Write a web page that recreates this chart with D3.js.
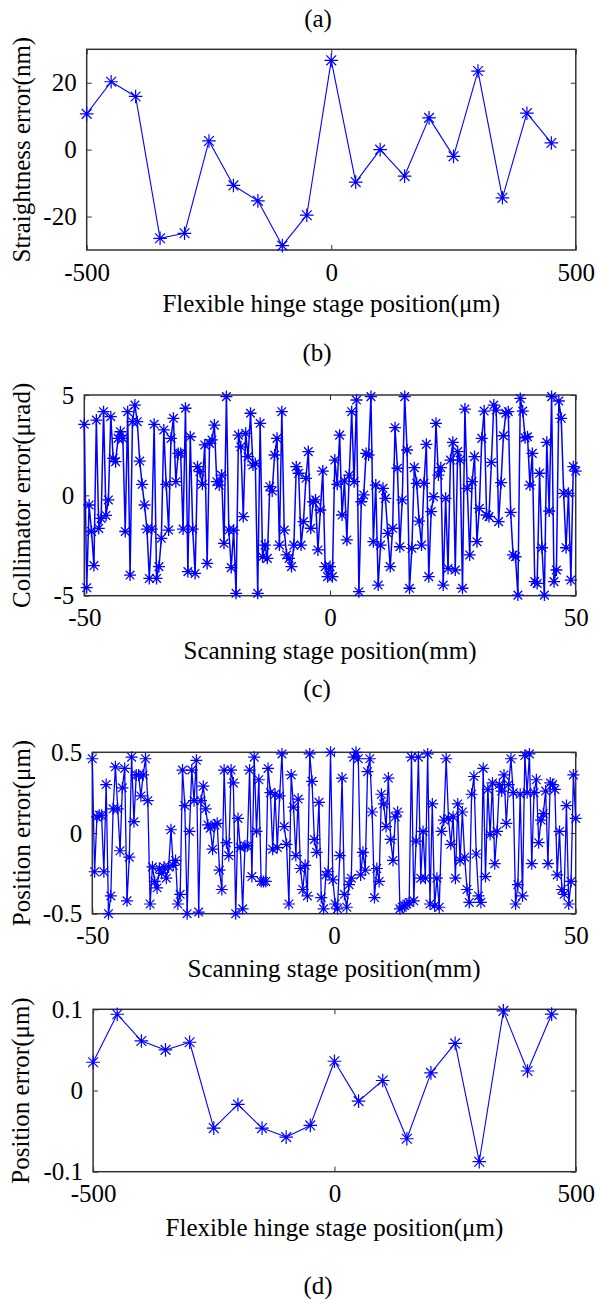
<!DOCTYPE html>
<html>
<head>
<meta charset="utf-8">
<script src="https://cdn.jsdelivr.net/npm/d3@7/dist/d3.min.js"></script>
<style>
  html, body { margin: 0; padding: 0; background: #fff; }
  svg { display: block; }
  text { font-family: "Liberation Serif", "Times New Roman", serif; fill: #000; }
</style>
</head>
<body>
<svg id="fig" width="596" height="1299"></svg>
<script>
// (a) straightness error vs flexible hinge stage position
const hingePos = [-500, -450, -400, -350, -300, -250, -200, -150, -100, -50,
                  0, 50, 100, 150, 200, 250, 300, 350, 400, 450];
const straightnessErr = [10.7, 20.3, 15.9, -26.5, -25, 2.6, -10.7, -15.3, -28.7, -19.6,
                         26.7, -9.7, 0, -7.9, 9.5, -2, 23.5, -14.4, 10.9, 2];

// (b) collimator error along the scanning stage (µrad)
const collimatorErr = [
  3.54,-4.6,-0.48,-1.8,-3.5,3.75,-1.65,-1.15,4.17,-1.0,
  -0.23,3.92,1.84,1.68,2.84,3.17,2.84,-1.8,4.17,-3.97,
  3.67,4.5,3.67,1.71,0.55,-0.48,-1.68,-4.14,-1.68,3.54,
  -4.14,-3.55,-2.14,3.26,0.55,-1.73,2.84,3.84,0.68,2.09,
  2.09,-1.68,4.34,-3.8,2.92,-1.68,-3.89,1.43,1.18,0.55,
  2.51,-3.39,2.59,2.76,3.5,0.68,0.51,1.01,-2.39,4.92,
  -1.73,-3.6,-1.73,-4.88,3.0,2.42,-1.06,
  3.09,1.93,4.09,1.51,1.59,-4.88,3.59,-3.06,-2.48,-3.14,
  0.43,0.22,2.01,2.84,-2.48,4.17,-1.73,-2.97,-3.14,-3.55,
  -2.48,1.43,1.1,-2.48,-1.31,0.85,2.18,-1.64,-0.32,-0.23,
  -2.72,-0.73,1.21,-3.55,-4.05,-3.55,-4.05,1.76,0.55,3.0,
  -0.98,0.71,-2.22,1.01,4.17,0.68,4.75,-4.8,-0.32,0.02,
  2.09,2.01,4.92,-2.31,0.51,-4.47,-2.48,0.35,-0.15,-1.89,
  -3.55,-1.64,3.37,1.35,-2.56,-0.23,4.92,2.26,-4.63,
  -2.64,1.38,0.6,-1.28,-2.48,0.6,2.54,-4.05,-0.81,-0.07,
  3.59,1.01,1.38,-4.47,-0.15,-3.64,1.76,2.64,-3.72,2.18,
  1.76,-4.63,4.3,0.35,-2.97,0.68,1.93,-2.31,-0.65,2.84,
  4.2,-0.98,-1.06,1.64,4.5,4.25,-1.31,0.63,2.97,4.09,
  4.17,-0.85,-2.97,-3.06,-4.97,4.83,4.2,2.87,2.92,0.51,
  2.09,-4.3,-4.39,1.1,-2.61,-4.97,2.64,-0.78,4.92,-4.3,
  -3.72,4.7,3.84,0.1,-2.61,0.1,-4.22,1.43,1.21
];

// (c) position error along the scanning stage (µm)
const scanPosErr = [
  0.46,-0.24,0.1,0.11,0.11,-0.24,0.3,-0.5,-0.39,0.15,
  0.41,0.15,-0.11,0.28,0.4,-0.42,-0.15,0.47,0.07,0.36,
  0.36,0.23,0.36,0.46,0.2,-0.44,-0.21,-0.3,-0.34,-0.22,
  -0.25,-0.21,-0.28,-0.21,0.02,-0.2,-0.17,-0.44,-0.38,0.39,
  0.17,-0.5,0.01,0.39,0.2,0.45,-0.49,0.2,0.29,0.15,
  0.05,0.03,-0.1,0.05,0.06,-0.23,-0.35,0.39,-0.06,-0.14,
  0.39,0.31,-0.5,0.09,-0.09,-0.47,-0.08,-0.08,0.39,-0.27,
  0.47,0.01,0.33,-0.3,
  -0.3,-0.3,0.4,0.25,-0.1,0.24,-0.09,0.23,0.49,0.04,
  -0.07,-0.44,0.36,0.16,-0.14,0.21,-0.22,-0.35,-0.2,-0.39,
  0.49,0.32,-0.04,-0.12,0.19,-0.4,-0.47,-0.26,-0.24,0.5,
  -0.29,-0.44,-0.47,-0.14,0.34,-0.38,-0.46,-0.32,-0.28,0.47,
  0.5,0.46,-0.26,-0.12,-0.23,0.38,0.46,0.13,-0.4,-0.22,
  -0.3,0.24,0.18,0.04,0.34,-0.04,-0.17,0.1,0.13,-0.47,
  -0.46,-0.45,-0.44,-0.43,0.47,-0.42,-0.05,0.47,-0.28,
  0.01,-0.28,0.49,-0.44,0.18,-0.45,-0.28,-0.46,0.01,0.08,
  0.46,0.09,-0.07,0.1,-0.28,0.18,-0.17,0.13,-0.15,-0.35,
  -0.43,0.24,0.35,-0.13,-0.39,-0.43,0.4,-0.27,0.27,-0.01,
  0.31,-0.19,0.01,0.3,0.26,0.36,0.06,0.3,0.46,0.25,
  -0.44,-0.32,0.24,-0.39,0.48,0.25,0.49,-0.19,0.25,0.33,
  -0.06,0.08,0.12,0.26,-0.19,0.31,0.3,0.27,-0.26,0.01,
  -0.35,-0.38,0.17,-0.44,-0.3,0.36,0.09
];

// (d) position error vs flexible hinge stage position (µm)
const hingePosErr = [0.0348, 0.0939, 0.061, 0.05, 0.0594, -0.0463, -0.0172, -0.0463, -0.0574, -0.043,
                     0.036, -0.0131, 0.0123, -0.0594, 0.0217, 0.058, -0.0877, 0.098, 0.024, 0.094];

// tick labels
const hingeTicks = [-500, 0, 500];
const scanTicks = [-50, 0, 50];
const ticksA = [-20, 0, 20];
const ticksB = [-5, 0, 5];
const ticksC = [-0.5, 0, 0.5];
const ticksD = [-0.1, 0, 0.1];

// scanning stage samples span the full -50..50 mm travel
const scanRange = [-50, 50];
const scanSamples = n => d3.range(n).map(i => scanRange[0] + (scanRange[1] - scanRange[0]) * i / (n - 1));

const panels = [
  { title: "(a)", titleXY: [318, 18],
    box: [86.7, 575.8, 49.3, 250], xDom: [-500, 500], yDom: [-30, 30],
    xTicks: hingeTicks, yTicks: ticksA,
    xs: hingePos, ys: straightnessErr,
    xLabel: "Flexible hinge stage position(\u03bcm)", xLabelY: 303,
    yLabel: "Straightness error(nm)", yLabelX: 21, r: 6.8, lw: 1.1, mw: 1.2 },
  { title: "(b)", titleXY: [317, 352],
    box: [84.3, 575.7, 395, 595.7], xDom: [-50, 50], yDom: [-5, 5],
    xTicks: scanTicks, yTicks: ticksB,
    xs: scanSamples(collimatorErr.length), ys: collimatorErr,
    xLabel: "Scanning stage position(mm)", xLabelY: 650,
    yLabel: "Collimator error(\u03bcrad)", yLabelX: 21, r: 6, lw: 1.5, mw: 1.3 },
  { title: "(c)", titleXY: [317, 688],
    box: [92.3, 575.7, 752.3, 913.7], xDom: [-50, 50], yDom: [-0.5, 0.5],
    xTicks: scanTicks, yTicks: ticksC,
    xs: scanSamples(scanPosErr.length), ys: scanPosErr,
    xLabel: "Scanning stage position(mm)", xLabelY: 968,
    yLabel: "Position error(\u03bcm)", yLabelX: 21, r: 6, lw: 1.3, mw: 1.2 },
  { title: "(d)", titleXY: [318, 1285],
    box: [93.1, 575.8, 1009.3, 1171.7], xDom: [-500, 500], yDom: [-0.1, 0.1],
    xTicks: hingeTicks, yTicks: ticksD,
    xs: hingePos, ys: hingePosErr,
    xLabel: "Flexible hinge stage position(\u03bcm)", xLabelY: 1227,
    yLabel: "Position error(\u03bcm)", yLabelX: 20, r: 6.8, lw: 1.1, mw: 1.2 }
];

const svg = d3.select("#fig");
const FONT = 25;
const BLUE = "#0000ff";
const fmt = d => String(d);   // plain hyphen-minus for negative ticks

function asterisk(r) {
  const k = r * 0.72;
  return `M0,${-r}V${r}M${-r},0H${r}M${-k},${-k}L${k},${k}M${-k},${k}L${k},${-k}`;
}

panels.forEach(p => {
  const [x0, x1, y0, y1] = p.box;
  const x = d3.scaleLinear().domain(p.xDom).range([x0, x1]);
  const y = d3.scaleLinear().domain(p.yDom).range([y1, y0]);
  const g = svg.append("g");

  // panel letter
  g.append("text").attr("x", p.titleXY[0]).attr("y", p.titleXY[1])
    .attr("text-anchor", "middle").attr("dominant-baseline", "central")
    .style("font-size", FONT + "px").text(p.title);

  // white plot area
  g.append("rect").attr("x", x0).attr("y", y0).attr("width", x1 - x0).attr("height", y1 - y0)
    .attr("fill", "#fff");

  // axes: inward ticks on all four sides, labels on bottom and left
  const styleAxis = sel => {
    sel.select(".domain").remove();
    sel.selectAll(".tick line").attr("stroke", "#333").attr("stroke-width", 1);
    sel.selectAll(".tick text").style("font-size", FONT + "px")
      .style("font-family", '"Liberation Serif", serif').attr("fill", "#000");
  };
  g.append("g").attr("transform", `translate(0,${y1})`)
    .call(d3.axisBottom(x).tickValues(p.xTicks).tickFormat(fmt).tickSizeInner(-5).tickSizeOuter(0).tickPadding(13))
    .call(styleAxis);
  g.append("g").attr("transform", `translate(0,${y0})`)
    .call(d3.axisTop(x).tickValues(p.xTicks).tickFormat("").tickSizeInner(-5).tickSizeOuter(0))
    .call(styleAxis);
  g.append("g").attr("transform", `translate(${x0},0)`)
    .call(d3.axisLeft(y).tickValues(p.yTicks).tickFormat(fmt).tickSizeInner(-5).tickSizeOuter(0).tickPadding(10))
    .call(styleAxis);
  g.append("g").attr("transform", `translate(${x1},0)`)
    .call(d3.axisRight(y).tickValues(p.yTicks).tickFormat("").tickSizeInner(-5).tickSizeOuter(0))
    .call(styleAxis);
  g.selectAll(".tick text").attr("font-family", null);

  // frame
  g.append("rect").attr("x", x0).attr("y", y0).attr("width", x1 - x0).attr("height", y1 - y0)
    .attr("fill", "none").attr("stroke", "#333").attr("stroke-width", 1.5);

  // axis titles
  g.append("text").attr("x", (x0 + x1) / 2).attr("y", p.xLabelY)
    .attr("text-anchor", "middle").attr("dominant-baseline", "central")
    .style("font-size", FONT + "px").text(p.xLabel);
  g.append("text")
    .attr("transform", `translate(${p.yLabelX},${(y0 + y1) / 2}) rotate(-90)`)
    .attr("text-anchor", "middle").attr("dominant-baseline", "central")
    .style("font-size", FONT + "px").text(p.yLabel);

  // data line and asterisk markers
  const pts = p.xs.map((xv, i) => [xv, p.ys[i]]);
  g.append("path").datum(pts)
    .attr("d", d3.line().x(d => x(d[0])).y(d => y(d[1])))
    .attr("fill", "none").attr("stroke", BLUE).attr("stroke-width", p.lw)
    .attr("stroke-linejoin", "round");
  g.append("g").selectAll("path").data(pts).join("path")
    .attr("transform", d => `translate(${x(d[0])},${y(d[1])})`)
    .attr("d", asterisk(p.r))
    .attr("fill", "none").attr("stroke", BLUE).attr("stroke-width", p.mw);
});
</script>
</body>
</html>
